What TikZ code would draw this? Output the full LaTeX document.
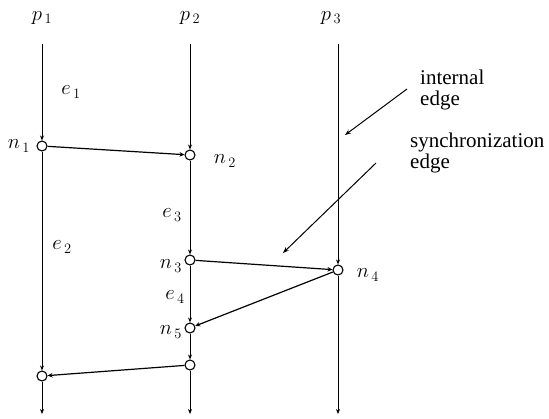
\documentclass[tikz,border=0pt]{standalone}
\usepackage{fontspec}
\setmainfont{Liberation Serif}
\usetikzlibrary{arrows.meta}
\begin{document}
\begin{tikzpicture}[x=1pt,y=-1pt,
  ev/.style={circle,draw,fill=white,inner sep=0pt,minimum size=10pt,line width=1.1pt},
  proc/.style={line width=1pt,-{Stealth[length=5pt,width=4pt]}},
  sync/.style={line width=1.2pt,-{Stealth[length=5pt,width=4.5pt]}},
  note/.style={line width=1pt,-{Stealth[length=6pt,width=4.5pt]}},
  lab/.style={inner sep=0pt,font=\fontsize{22}{24}\selectfont},
  txt/.style={inner sep=0pt,align=left,font=\fontsize{21}{20.5}\selectfont}]
\useasboundingbox (0,0) rectangle (549,418);
% process heads
\coordinate (t1) at (42,44);
\coordinate (t2) at (190,44);
\coordinate (t3) at (338,44);
\coordinate (e1end) at (42,414);
\coordinate (e2end) at (190,414);
\coordinate (e3end) at (338,414);
% events
\node[ev] (n1) at (42,146) {};
\node[ev] (n2) at (190,155) {};
\node[ev] (n3) at (190,260) {};
\node[ev] (n4) at (338,270) {};
\node[ev] (n5) at (190,328) {};
\node[ev] (b1) at (42,376) {};
\node[ev] (b2) at (190,365) {};
% process lines
\draw[proc] (t1) -- (n1);
\draw[proc] (n1) -- (b1);
\draw[proc] (b1) -- (e1end);
\draw[proc] (t2) -- (n2);
\draw[proc] (n2) -- (n3);
\draw[proc] (n3) -- (n5);
\draw[proc] (n5) -- (b2);
\draw[proc] (b2) -- (e2end);
\draw[proc] (t3) -- (n4);
\draw[proc] (n4) -- (e3end);
% synchronization edges
\draw[sync] (n1) -- (n2);
\draw[sync] (n3) -- (n4);
\draw[sync] (n4) -- (n5);
\draw[sync] (b2) -- (b1);
% labels
\node[lab] (lp1) at (42,18) {$p_{\,1}$};
\node[lab] (lp2) at (190,18) {$p_{\,2}$};
\node[lab] (lp3) at (331,18) {$p_{\,3}$};
\node[lab] (le1) at (71,92) {$e_{\,1}$};
\node[lab] (le2) at (62,247) {$e_{\,2}$};
\node[lab] (le3) at (172,215) {$e_{\,3}$};
\node[lab] (le4) at (175,297) {$e_{\,4}$};
\node[lab] (ln1) at (19,146) {$n_{\,1}$};
\node[lab] (ln2) at (225,161) {$n_{\,2}$};
\node[lab] (ln3) at (171,266) {$n_{\,3}$};
\node[lab] (ln4) at (368,275) {$n_{\,4}$};
\node[lab] (ln5) at (171,332) {$n_{\,5}$};
% annotations
\node[txt,anchor=north west] (ie) at (420,70) {internal\\edge};
\node[txt,anchor=north west] (se) at (410,133) {synchronization\\edge};
\coordinate (ieA) at (407,89);
\coordinate (ieB) at (345,135);
\coordinate (seA) at (376,163);
\coordinate (seB) at (283,253);
\draw[note] (ieA) -- (ieB);
\draw[note] (seA) -- (seB);
\end{tikzpicture}
\end{document}
